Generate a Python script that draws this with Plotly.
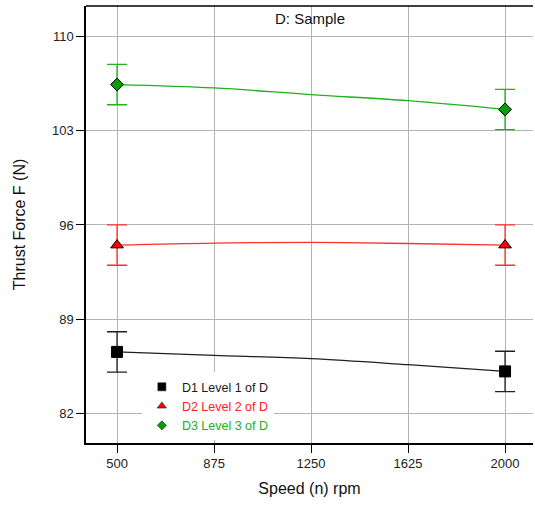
import plotly.graph_objects as go

speed = [500, 2000]
d1 = [86.55, 85.1]
d2 = [94.5, 94.5]
d3 = [106.45, 104.6]
d1_err = [1.5, 1.5]
d2_err = [1.5, 1.5]
d3_err = [1.5, 1.5]

curve_speed = [500, 875, 1250, 1625, 2000]
d1_curve = [86.55, 86.3, 86.05, 85.6, 85.1]
d2_curve = [94.5, 94.65, 94.7, 94.62, 94.5]
d3_curve = [106.45, 106.2, 105.7, 105.25, 104.6]

names = ["D1 Level 1 of D", "D2 Level 2 of D", "D3 Level 3 of D"]
colors = ["#000000", "#ff0000", "#00a000"]
line_colors = ["#202020", "#ff3030", "#20b020"]
text_colors = ["#1a1a1a", "#ff2020", "#20b020"]
symbols = ["square", "triangle-up", "diamond"]
sizes = [11, 11, 10]
legend_sizes = [8, 8, 7]

fig = go.Figure()
for yc, lc in zip([d1_curve, d2_curve, d3_curve], line_colors):
    fig.add_trace(go.Scatter(x=curve_speed, y=yc, mode="lines", line=dict(color=lc, width=1.3, shape="spline"),
                             showlegend=False, hoverinfo="skip"))
for y, e, c, lc, s, sz in zip([d1, d2, d3], [d1_err, d2_err, d3_err], colors, line_colors, symbols, sizes):
    fig.add_trace(go.Scatter(x=speed, y=y, mode="markers", showlegend=False,
                             marker=dict(symbol=s, size=sz, color=c, line=dict(color="#000", width=1)),
                             error_y=dict(type="data", array=e, color=lc, thickness=1.3, width=10)))
for n, c, tc, s, lsz in zip(names, colors, text_colors, symbols, legend_sizes):
    fig.add_trace(go.Scatter(x=[None], y=[None], mode="markers", name=f"<span style='color:{tc}'>{n}</span>",
                             marker=dict(symbol=s, size=lsz, color=c, line=dict(color="#000", width=0.5))))

fig.update_layout(
    width=535, height=508,
    margin=dict(l=86, r=2, t=6, b=65),
    paper_bgcolor="white", plot_bgcolor="white",
    font=dict(family="Liberation Sans, Arial", size=13, color="#222"),
    annotations=[dict(text="D: Sample", x=0.5, y=1, xref="paper", yref="paper", xanchor="center", yanchor="top",
                      yshift=-2, showarrow=False, font=dict(size=15, color="#111"))],
    shapes=[dict(type="line", xref="paper", yref="paper", x0=0, x1=1, y0=1, y1=1,
                 line=dict(color="#000", width=1.5))],
    legend=dict(x=0.125, y=0.162, xanchor="left", yanchor="top", bgcolor="white",
                font=dict(size=12.5), itemwidth=30, tracegroupgap=0),
    xaxis=dict(range=[380, 2108], tickvals=[500, 875, 1250, 1625, 2000], ticks="outside", ticklen=8,
               tickcolor="#000", showline=True, linecolor="#000", linewidth=1.5,
               showgrid=True, gridcolor="#b4b4b4", gridwidth=1.3, zeroline=False,
               tickfont=dict(size=13),
               title=dict(text="Speed (n) rpm", font=dict(size=16, color="#111"), standoff=12)),
    yaxis=dict(range=[79.77, 112.3], tickvals=[82, 89, 96, 103, 110], ticks="outside", ticklen=8,
               tickcolor="#000", showline=True, linecolor="#000", linewidth=1.5,
               showgrid=True, gridcolor="#b4b4b4", gridwidth=1.3, zeroline=False,
               tickfont=dict(size=13),
               title=dict(text="Thrust Force F (N)", font=dict(size=16, color="#111"), standoff=22)),
)
fig.write_html("out.html")
